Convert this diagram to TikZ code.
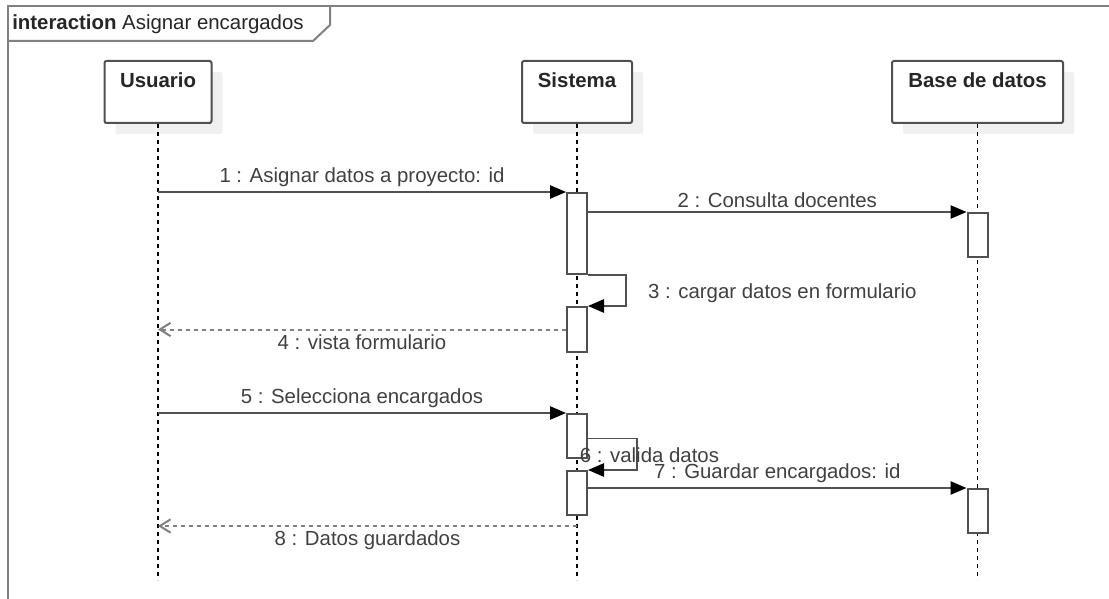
\documentclass[tikz,border=0pt]{standalone}
\usepackage{fontspec}
\setmainfont{Liberation Sans}
\usetikzlibrary{arrows.meta,shadows}
\definecolor{umlline}{HTML}{505050}
\definecolor{umlframe}{HTML}{808080}
\definecolor{umltext}{HTML}{404040}
\definecolor{umlshade}{HTML}{F0F0F0}
\tikzset{>={Triangle[length=12pt,width=10pt,color=black]}}
\tikzset{
  head/.style={draw=umlline, line width=1.5pt, rounded corners=1.5pt, fill=white,
    align=center, minimum height=46.5pt, inner sep=0pt,
    font=\fontsize{15.3}{18}\selectfont\bfseries, text=black!85,
    drop shadow={shadow xshift=8.25pt, shadow yshift=-8.25pt, fill=umlshade, opacity=1}},
  life/.style={black, line width=1pt, dash pattern=on 3pt off 3pt},
  act/.style={draw=umlline, line width=1.5pt, fill=white, minimum width=15pt,
    minimum height=#1*0.75pt, inner sep=0pt, anchor=north},
  msg/.style={umlline, line width=1.2pt, ->},
  ret/.style={umlframe, line width=1.5pt, dash pattern=on 3pt off 3pt,
    -{Straight Barb[length=8pt,width=10pt]}},
  lbl/.style={text=umltext, inner sep=3pt}
}

\begin{document}
\begin{tikzpicture}[x=0.75pt, y=-0.75pt, font=\fontsize{15.3}{18}\selectfont]
    \useasboundingbox (0,0) rectangle (1109,599);
    \draw[umlframe, line width=1.5pt] (8,599) |- (1109,6);
    \draw[umlframe, line width=1.5pt] (8,41) -- (313,41) -- (330,25) -- (330,6);
    \node[anchor=west, inner sep=0pt, text=black!85] (titulo) at (12,24) {\textbf{interaction} Asignar encargados};

    \node[head, minimum width=80.25pt] (usuario) at (158,92) {Usuario\\ \mbox{}};
    \node[head, minimum width=82.5pt] (sistema) at (577,92) {Sistema\\ \mbox{}};
    \node[head, minimum width=128.25pt] (bd) at (977.5,92) {Base de datos\\ \mbox{}};
    \foreach \n in {usuario,sistema,bd}
        \draw[life] (\n.south) -- (\n.south |- 0,580);

    \node[act=81] (a1) at (577,192) {};
    \node[act=44] (b1) at (977.5,212) {};
    \node[act=45] (a2) at (577,306) {};
    \node[act=44] (a3) at (577,413) {};
    \node[act=44] (a4) at (577,470) {};
    \node[act=44] (b2) at (977.5,488) {};
    \coordinate (r8) at (577,526);

    \draw[msg] (usuario |- a1.north) -- node[lbl, above] {1 : Asignar datos a proyecto: id} (a1.north west);
    \draw[msg] (a1.east |- b1.north) -- node[lbl, above] {2 : Consulta docentes} (b1.north west);
    \draw[msg] (a1.south east) -- ++(38,0) |- node[lbl, pos=0.3, right=13pt] {3 : cargar datos en formulario} (a2.north east);
    \draw[ret] (a2.west) -- node[lbl, below] {4 : vista formulario} (usuario |- a2.west);
    \draw[msg] (usuario |- a3.north) -- node[lbl, above] {5 : Selecciona encargados} (a3.north west);
    \draw[msg] ([yshift=-2pt]a3.east) -- ++(49,0) |- (a4.north east);
    \node[lbl, anchor=west, inner sep=2pt] (l6) at ([yshift=3pt]a3.south) {6 : valida datos};
    \draw[msg] (a4.east |- b2.north) -- node[lbl, above] {7 : Guardar encargados: id} (b2.north west);
    \draw[ret] (r8) -- node[lbl, below] {8 : Datos guardados} (usuario |- r8);
\end{tikzpicture}
\end{document}
